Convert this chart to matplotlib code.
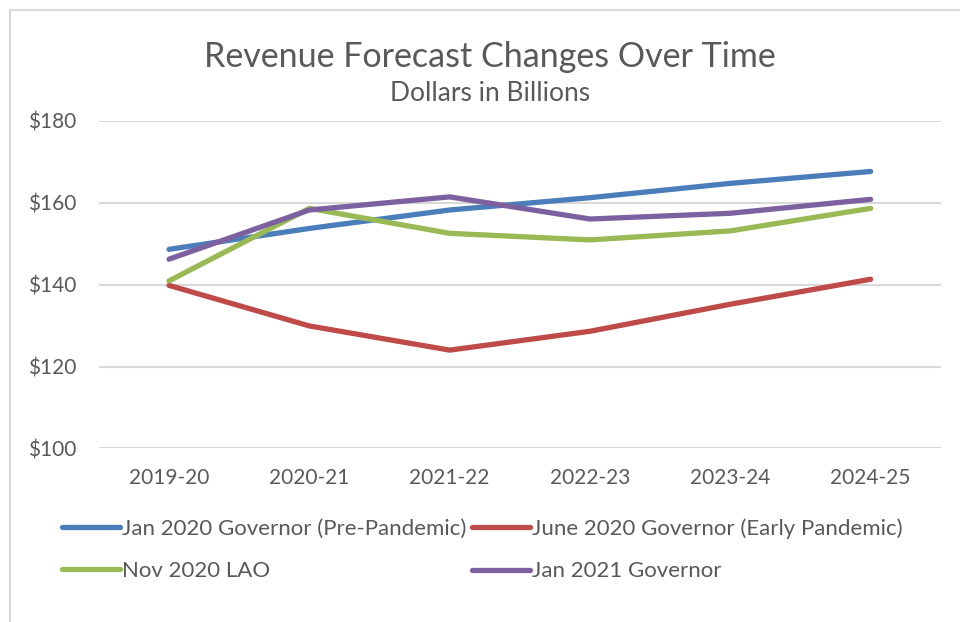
import matplotlib
matplotlib.use("Agg")
import matplotlib.pyplot as plt
from matplotlib.patches import Rectangle

years = ["2019-20", "2020-21", "2021-22", "2022-23", "2023-24", "2024-25"]
jan2020 = [148.6, 153.7, 158.2, 161.2, 164.7, 167.6]
june2020 = [139.8, 129.9, 124.0, 128.6, 135.2, 141.3]
nov2020 = [140.9, 158.6, 152.5, 150.9, 153.1, 158.6]
jan2021 = [146.2, 158.2, 161.4, 156.0, 157.4, 160.8]
names = ["Jan 2020 Governor (Pre-Pandemic)", "June 2020 Governor (Early Pandemic)",
         "Nov 2020 LAO", "Jan 2021 Governor"]
yticks = [100, 120, 140, 160, 180]

plt.rcParams['font.family'] = ['Lato', 'DejaVu Sans']
grey = '#595959'

fig = plt.figure(figsize=(9.6, 6.22), dpi=100)
fig.patches.append(Rectangle((10 / 960, -0.1), 1.2, (1 - 10 / 622) + 0.1,
                             transform=fig.transFigure, fill=False,
                             edgecolor='#d9d9d9', linewidth=1.5))
ax = fig.add_axes([0.103, 0.279, 0.877, 0.527])

x = range(len(years))
colors = ['#4a7ebb', '#be4b48', '#98b954', '#7d60a0']
lines = []
for vals, c, n in zip([jan2020, june2020, nov2020, jan2021], colors, names):
    l, = ax.plot(x, vals, color=c, lw=3.8, solid_capstyle='round',
                 solid_joinstyle='round', label=n, zorder=3)
    lines.append(l)

ax.set_xlim(-0.5, len(years) - 0.5)
ax.set_ylim(100, 180)
ax.set_yticks(yticks)
ax.set_yticklabels(['$%d' % v for v in yticks])
ax.set_xticks(list(x))
ax.set_xticklabels(years)
ax.grid(axis='y', color='#d9d9d9', lw=1.5)
ax.set_axisbelow(True)
for s in ax.spines.values():
    s.set_visible(False)
ax.tick_params(length=0, labelsize=15, colors=grey)
ax.tick_params(axis='x', pad=14)
ax.tick_params(axis='y', pad=16)

fig.text(0.51, 0.908, "Revenue Forecast Changes Over Time", ha='center', va='center',
         fontsize=24.5, color=grey)
fig.text(0.51, 0.850, "Dollars in Billions", ha='center', va='center',
         fontsize=19, color=grey)

# legend in two columns, drawn as two separate one-column legends
for col, xpos in [((0, 2), 62), ((1, 3), 472)]:
    fig.legend(handles=[lines[i] for i in col], loc='center left',
               bbox_to_anchor=(xpos / 960, 1 - 550 / 622), ncol=1,
               frameon=False, fontsize=16, handlelength=2.6, handletextpad=0.1,
               borderpad=0, borderaxespad=0, labelspacing=1.0, labelcolor=grey)

fig.savefig("out.png", dpi=100)
